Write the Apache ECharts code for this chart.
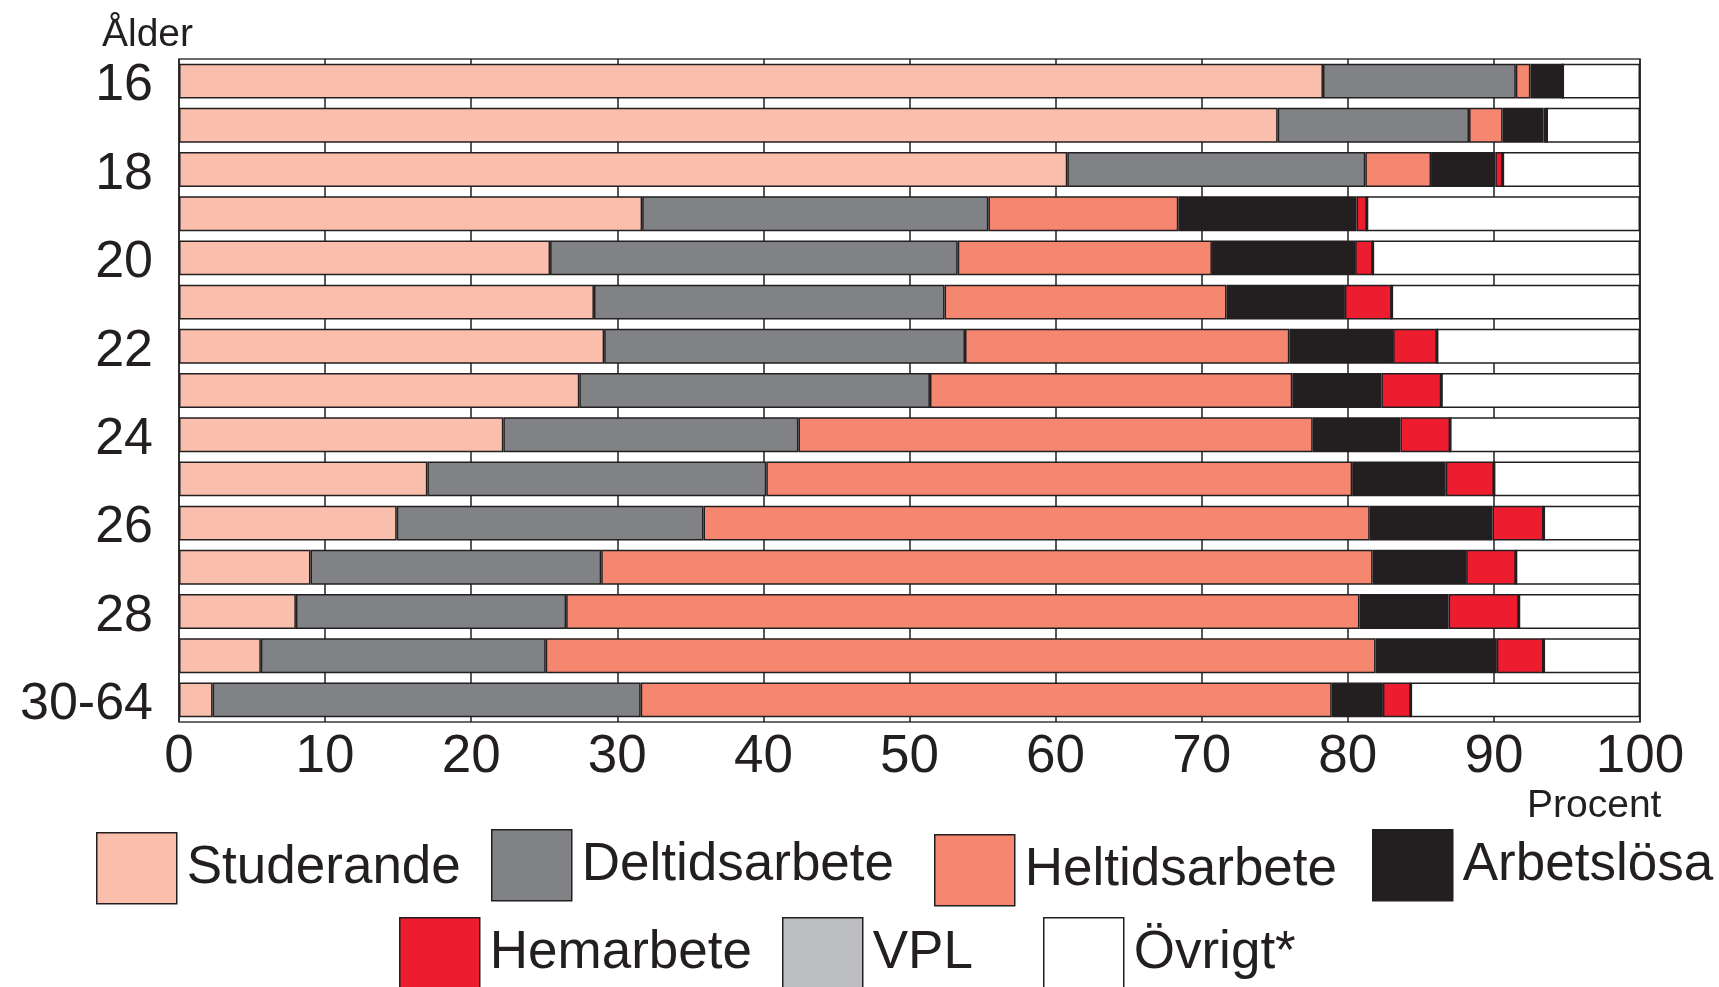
<!DOCTYPE html>
<html>
<head>
<meta charset="utf-8">
<title>Ålder</title>
<script src="https://cdn.jsdelivr.net/npm/echarts@6/dist/echarts.min.js"></script>
<style>
  html, body { margin: 0; padding: 0; background: #fff; }
  #chart { width: 1719px; height: 987px; }
</style>
</head>
<body>
<div id="chart"></div>
<script>
// åldersgrupper (uppifrån och ned)
var ages = ['16','17','18','19','20','21','22','23','24','25','26','27','28','29','30-64'];
var xTicks = [0, 10, 20, 30, 40, 50, 60, 70, 80, 90, 100];

// andelar i procent
var studerande    = [78.3, 75.2, 60.8, 31.7, 25.4, 28.4, 29.1, 27.4, 22.2, 17.0, 14.9, 9.0, 8.0, 5.6, 2.3];
var deltidsarbete = [13.2, 13.1, 20.4, 23.7, 27.9, 24.0, 24.7, 24.0, 20.2, 23.2, 21.0, 19.9, 18.5, 19.5, 29.3];
var heltidsarbete = [1.0, 2.3, 4.5, 13.0, 17.4, 19.3, 22.2, 24.8, 35.2, 40.1, 45.6, 52.8, 54.3, 56.8, 47.3];
var arbetslosa    = [2.2, 2.8, 4.4, 12.2, 9.8, 8.1, 7.1, 6.1, 6.0, 6.4, 8.4, 6.4, 6.1, 8.3, 3.5];
var hemarbete     = [0, 0.2, 0.5, 0.7, 1.2, 3.2, 3.0, 4.1, 3.4, 3.3, 3.5, 3.4, 4.8, 3.2, 1.9];
var vpl           = [0, 0, 0, 0, 0, 0, 0, 0, 0, 0, 0, 0, 0, 0, 0];
var ovrigt        = [5.3, 6.4, 9.4, 18.7, 18.3, 17.0, 13.9, 13.6, 13.0, 10.0, 6.6, 8.5, 8.3, 6.6, 15.7];

var names = ['Studerande', 'Deltidsarbete', 'Heltidsarbete', 'Arbetslösa', 'Hemarbete', 'VPL', 'Övrigt*'];
var values = [studerande, deltidsarbete, heltidsarbete, arbetslosa, hemarbete, vpl, ovrigt];
var colors = ['#f9bfac', '#808285', '#f5866f', '#231f20', '#ed1c2e', '#bcbec0', '#ffffff'];

// legendrutornas placering [left, top]
var legendPos = [[96, 832], [491, 829], [934, 834], [1372, 829], [399, 917], [782, 917], [1043, 917]];

var font = "'Liberation Sans', Arial, sans-serif";
var ink = '#231f20';

var series = [];
for (var i = 0; i < names.length; i++) {
    series.push({
        name: names[i],
        type: 'bar',
        stack: 'total',
        barCategoryGap: '21%',
        itemStyle: {
            color: colors[i],
            borderColor: ink,
            borderWidth: 1.5
        },
        data: values[i]
    });
}

var legends = [];
for (var j = 0; j < names.length; j++) {
    legends.push({
        data: [names[j]],
        left: legendPos[j][0],
        top: legendPos[j][1],
        padding: 0,
        itemWidth: 80,
        itemHeight: 71,
        icon: 'rect',
        selectedMode: false,
        itemStyle: { borderColor: ink, borderWidth: 1.5 },
        textStyle: { fontSize: 53, color: ink, fontFamily: font, padding: [0, 0, 0, 5] }
    });
}

var myChart = echarts.init(document.getElementById('chart'));
myChart.setOption({
    animation: false,
    backgroundColor: '#fff',
    title: [
        { text: 'Ålder', left: 97, top: 11, textStyle: { fontSize: 39, fontWeight: 'normal', color: ink, fontFamily: font } },
        { text: 'Procent', left: 1522, top: 782, textStyle: { fontSize: 39, fontWeight: 'normal', color: ink, fontFamily: font } }
    ],
    legend: legends,
    grid: [{
        left: 179,
        top: 59,
        width: 1461,
        height: 663,
        show: true,
        borderColor: '#3a3a3a',
        borderWidth: 1.5
    }, {
        // bara för åldersetiketterna, lite nedflyttade
        left: 179,
        top: 64,
        width: 1461,
        height: 663
    }],
    xAxis: [{
        type: 'value',
        min: xTicks[0],
        max: xTicks[xTicks.length - 1],
        interval: 10,
        axisLine: { show: false },
        axisTick: { show: false },
        splitLine: { show: true, lineStyle: { color: ink, width: 1.5 } },
        axisLabel: { fontSize: 53, color: ink, fontFamily: font, margin: 9 }
    }, {
        gridIndex: 1,
        type: 'value',
        min: 0,
        max: 100,
        show: false
    }],
    yAxis: [{
        type: 'category',
        inverse: true,
        data: ages,
        axisLine: { show: false },
        axisTick: { show: false },
        axisLabel: { show: false }
    }, {
        gridIndex: 1,
        type: 'category',
        inverse: true,
        data: ages,
        axisLine: { show: false },
        axisTick: { show: false },
        splitLine: { show: false },
        axisLabel: { interval: 1, fontSize: 52, color: ink, fontFamily: font, margin: 26 }
    }],
    series: series
});
</script>
</body>
</html>
